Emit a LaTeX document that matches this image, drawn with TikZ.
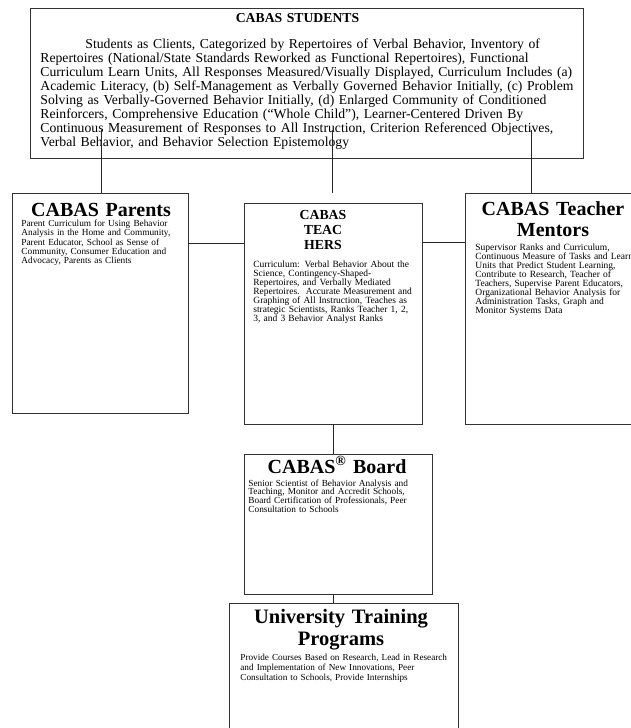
\documentclass[tikz,border=0pt]{standalone}
\usepackage{fontspec}
\setmainfont{Liberation Serif}
\usetikzlibrary{positioning}

\newcommand{\bigtitle}{\fontsize{20}{21}\selectfont\bfseries}
\newcommand{\smalltext}{\fontsize{9.5}{9.1}\selectfont}
\newcommand{\toptext}{\fontsize{13.7}{14.1}\selectfont}

\begin{document}
\begin{tikzpicture}[x=1pt,y=-1pt,line width=0.8pt,draw=black!85,
  box/.style={draw=black!80,rectangle,inner sep=0pt,outer sep=0pt},
  head/.style={inner sep=0pt,text width=#1,align=center,anchor=base},
  body/.style={inner sep=0pt,text width=#1,align=left,anchor=base west,font=\smalltext},
  line/.style={draw=black!85,line width=0.8pt}]

\useasboundingbox (0,0) rectangle (630,728);

\node[box, minimum width=553pt, minimum height=150pt] (students) at (306.5,83) {};
\node[head=300pt, font=\toptext\bfseries] (studhead) at (297.5,22) {CABAS STUDENTS};
\node[body=540pt, font=\toptext] (studbody) at (40,48) {%
\hspace*{45pt}Students as Clients, Categorized by Repertoires of Verbal Behavior, Inventory of\\
Repertoires (National/State Standards Reworked as Functional Repertoires), Functional\\
Curriculum Learn Units, All Responses Measured/Visually Displayed, Curriculum Includes (a)\\
Academic Literacy, (b) Self-Management as Verbally Governed Behavior Initially, (c) Problem\\
Solving as Verbally-Governed Behavior Initially, (d) Enlarged Community of Conditioned\\
Reinforcers, Comprehensive Education (“Whole Child”), Learner-Centered Driven By\\
Continuous Measurement of Responses to All Instruction, Criterion Referenced Objectives,\\
Verbal Behavior, and Behavior Selection Epistemology};

\node[box, minimum width=176pt, minimum height=220pt] (parents) at (100,303) {};
\node[head=176pt, font=\bigtitle] (parhead) at (101,216) {CABAS Parents};
\node[body=160pt, font=\fontsize{9.3}{9.3}\selectfont] (parbody) at (21,226.5) {%
Parent Curriculum for Using Behavior\\
Analysis in the Home and Community,\\
Parent Educator, School as Sense of\\
Community, Consumer Education and\\
Advocacy, Parents as Clients};

\node[box, minimum width=178pt, minimum height=221pt] (teachers) at (333,313.5) {};
\node[head=140pt, font=\fontsize{13.8}{15}\selectfont\bfseries] (teahead) at (323,219) {CABAS\\TEAC\\HERS};
\node[body=160pt] (teabody) at (253,267) {%
Curriculum: Verbal Behavior About the\\
Science, Contingency-Shaped-\\
Repertoires, and Verbally Mediated\\
Repertoires.\ \ Accurate Measurement and\\
Graphing of All Instruction, Teaches as\\
strategic Scientists, Ranks Teacher 1, 2,\\
3, and 3 Behavior Analyst Ranks};

\node[box, minimum width=185pt, minimum height=231pt] (mentors) at (557.5,308.5) {};
\node[head=170pt, font=\bigtitle] (menhead) at (553,215) {CABAS Teacher\\Mentors};
\node[body=170pt] (menbody) at (475,250) {%
Supervisor Ranks and Curriculum,\\
Continuous Measure of Tasks and Learn\\
Units that Predict Student Learning,\\
Contribute to Research, Teacher of\\
Teachers, Supervise Parent Educators,\\
Organizational Behavior Analysis for\\
Administration Tasks, Graph and\\
Monitor Systems Data};

\node[box, minimum width=188pt, minimum height=140pt] (board) at (338,524) {};
\node[head=188pt, font=\bigtitle] (boahead) at (337,473) {CABAS\textsuperscript{®} Board};
\node[body=180pt, font=\fontsize{9.3}{8.8}\selectfont] (boabody) at (248,486) {%
Senior Scientist of Behavior Analysis and\\
Teaching, Monitor and Accredit Schools,\\
Board Certification of Professionals, Peer\\
Consultation to Schools};

\node[box, minimum width=229pt, minimum height=154pt] (univ) at (343.5,680) {};
\node[head=229pt, font=\fontsize{20.5}{22}\selectfont\bfseries] (unihead) at (341,623) {University Training\\Programs};
\node[body=215pt, font=\fontsize{9.2}{10.3}\selectfont] (unibody) at (240,660) {%
Provide Courses Based on Research, Lead in Research\\
and Implementation of New Innovations, Peer\\
Consultation to Schools, Provide Internships};

\coordinate (s1) at (101,130);
\coordinate (s2) at (332,130);
\coordinate (s3) at (531,130);
\coordinate (h1) at (0,243);
\coordinate (h2) at (0,242);

\path[line]
	(s1) edge (s1 |- parents.north)
	(s2) edge (s2 |- mentors.north)
	(s3) edge (s3 |- mentors.north);

\path[line]
	(parents.east |- h1) edge (teachers.west |- h1)
	(teachers.east |- h2) edge (mentors.west |- h2);

\path[line]
	(teachers.south) edge (teachers.south |- board.north)
	(teachers.south |- board.south) edge (teachers.south |- univ.north);

\end{tikzpicture}
\end{document}
